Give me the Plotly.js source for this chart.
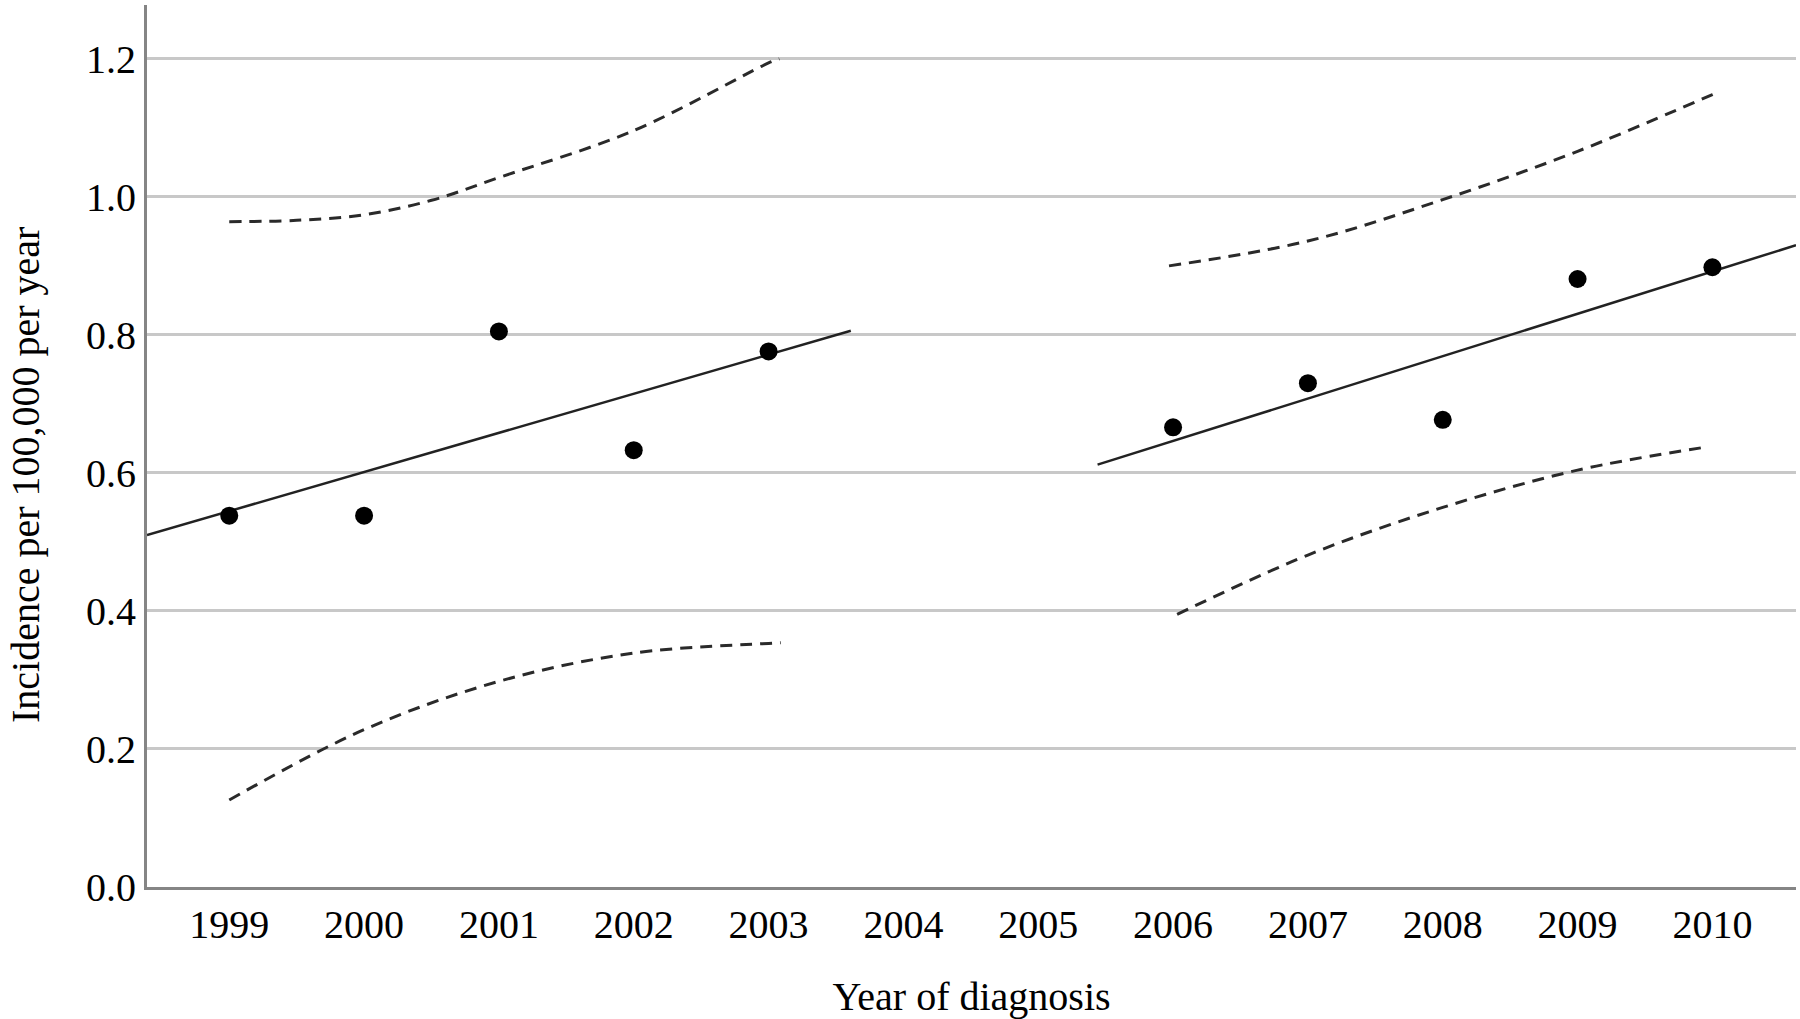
<!DOCTYPE html>
<html>
<head>
<meta charset="utf-8">
<script src="https://cdn.plot.ly/plotly-3.0.1.min.js"></script>
<style>html,body{margin:0;padding:0;background:#fff;}#chart{width:1800px;height:1019px;}</style>
</head>
<body>
<div id="chart"></div>
<script>
// Observed incidence points
const yearsA = [1999, 2000, 2001, 2002, 2003];
const incidenceA = [0.538, 0.538, 0.805, 0.633, 0.776];
const yearsB = [2006, 2007, 2008, 2009, 2010];
const incidenceB = [0.666, 0.730, 0.677, 0.881, 0.898];

// Fitted regression lines (endpoints)
const fitXA = [1998.39, 2003.61];
const fitYA = [0.510, 0.806];
const fitXB = [2005.44, 2010.62];
const fitYB = [0.612, 0.930];

// Confidence bands
const ciXA = [1999.0, 1999.5, 2000.0, 2000.5, 2001.0, 2002.0, 2003.0, 2003.08];
const ciUpperA = [0.964, 0.966, 0.974, 0.995, 1.028, 1.096, 1.194, 1.200];
const ciLowerXA = [1999.0, 2000.0, 2001.0, 2002.0, 2003.0, 2003.09];
const ciLowerA = [0.126, 0.228, 0.298, 0.339, 0.353, 0.354];

const ciXB = [2005.97, 2007.0, 2008.0, 2009.0, 2010.0, 2010.05];
const ciUpperB = [0.900, 0.936, 0.996, 1.066, 1.148, 1.152];
const ciLowerXB = [2006.03, 2007.0, 2008.0, 2009.0, 2009.97];
const ciLowerB = [0.395, 0.481, 0.550, 0.604, 0.638];

const tickYears = [1999, 2000, 2001, 2002, 2003, 2004, 2005, 2006, 2007, 2008, 2009, 2010];
const tickValsY = [0.0, 0.2, 0.4, 0.6, 0.8, 1.0, 1.2];
const tickTextY = ['0.0', '0.2', '0.4', '0.6', '0.8', '1.0', '1.2'];

const xTitle = 'Year of diagnosis';
const yTitle = 'Incidence per 100,000 per year';

const dashStyle = {color: '#2a2a2a', width: 3, dash: '12px,8px', shape: 'spline', smoothing: 1};
const fitStyle = {color: '#222222', width: 2.5};

const traces = [
  {x: ciXA, y: ciUpperA, mode: 'lines', line: dashStyle, hoverinfo: 'skip'},
  {x: ciLowerXA, y: ciLowerA, mode: 'lines', line: dashStyle, hoverinfo: 'skip'},
  {x: ciXB, y: ciUpperB, mode: 'lines', line: dashStyle, hoverinfo: 'skip'},
  {x: ciLowerXB, y: ciLowerB, mode: 'lines', line: dashStyle, hoverinfo: 'skip'},
  {x: fitXA, y: fitYA, mode: 'lines', line: fitStyle},
  {x: fitXB, y: fitYB, mode: 'lines', line: fitStyle},
  {x: yearsA, y: incidenceA, mode: 'markers', marker: {color: '#000', size: 18}},
  {x: yearsB, y: incidenceB, mode: 'markers', marker: {color: '#000', size: 18}}
];

const fontFam = '"Liberation Serif", "Times New Roman", serif';
const fs = 40;

const layout = {
  width: 1800,
  height: 1019,
  margin: {l: 147, r: 4, t: 5, b: 132},
  paper_bgcolor: '#ffffff',
  plot_bgcolor: '#ffffff',
  showlegend: false,
  font: {family: fontFam, size: fs, color: '#000'},
  xaxis: {
    range: [1998.39, 2010.62],
    tickvals: tickYears,
    ticktext: tickYears.map(String),
    showgrid: false,
    zeroline: false,
    showline: true,
    linecolor: '#858585',
    linewidth: 3,
    ticks: '',
    tickfont: {family: fontFam, size: fs, color: '#000'},
    title: {text: xTitle, font: {family: fontFam, size: fs, color: '#000'}, standoff: 38}
  },
  yaxis: {
    range: [0, 1.278],
    tickvals: tickValsY,
    ticktext: tickTextY,
    showgrid: true,
    gridcolor: '#c8c8c8',
    gridwidth: 3,
    zeroline: false,
    showline: true,
    linecolor: '#858585',
    linewidth: 3,
    ticks: '',
    tickfont: {family: fontFam, size: fs, color: '#000'}
  },
  annotations: [{
    text: yTitle,
    xref: 'paper', yref: 'paper',
    x: (25 - 147) / 1649, y: (887 - 475) / 882,
    xanchor: 'center', yanchor: 'middle',
    textangle: -90,
    showarrow: false,
    font: {family: fontFam, size: fs, color: '#000'}
  }]
};

Plotly.newPlot('chart', traces, layout, {displayModeBar: false, staticPlot: true});
</script>
</body>
</html>
